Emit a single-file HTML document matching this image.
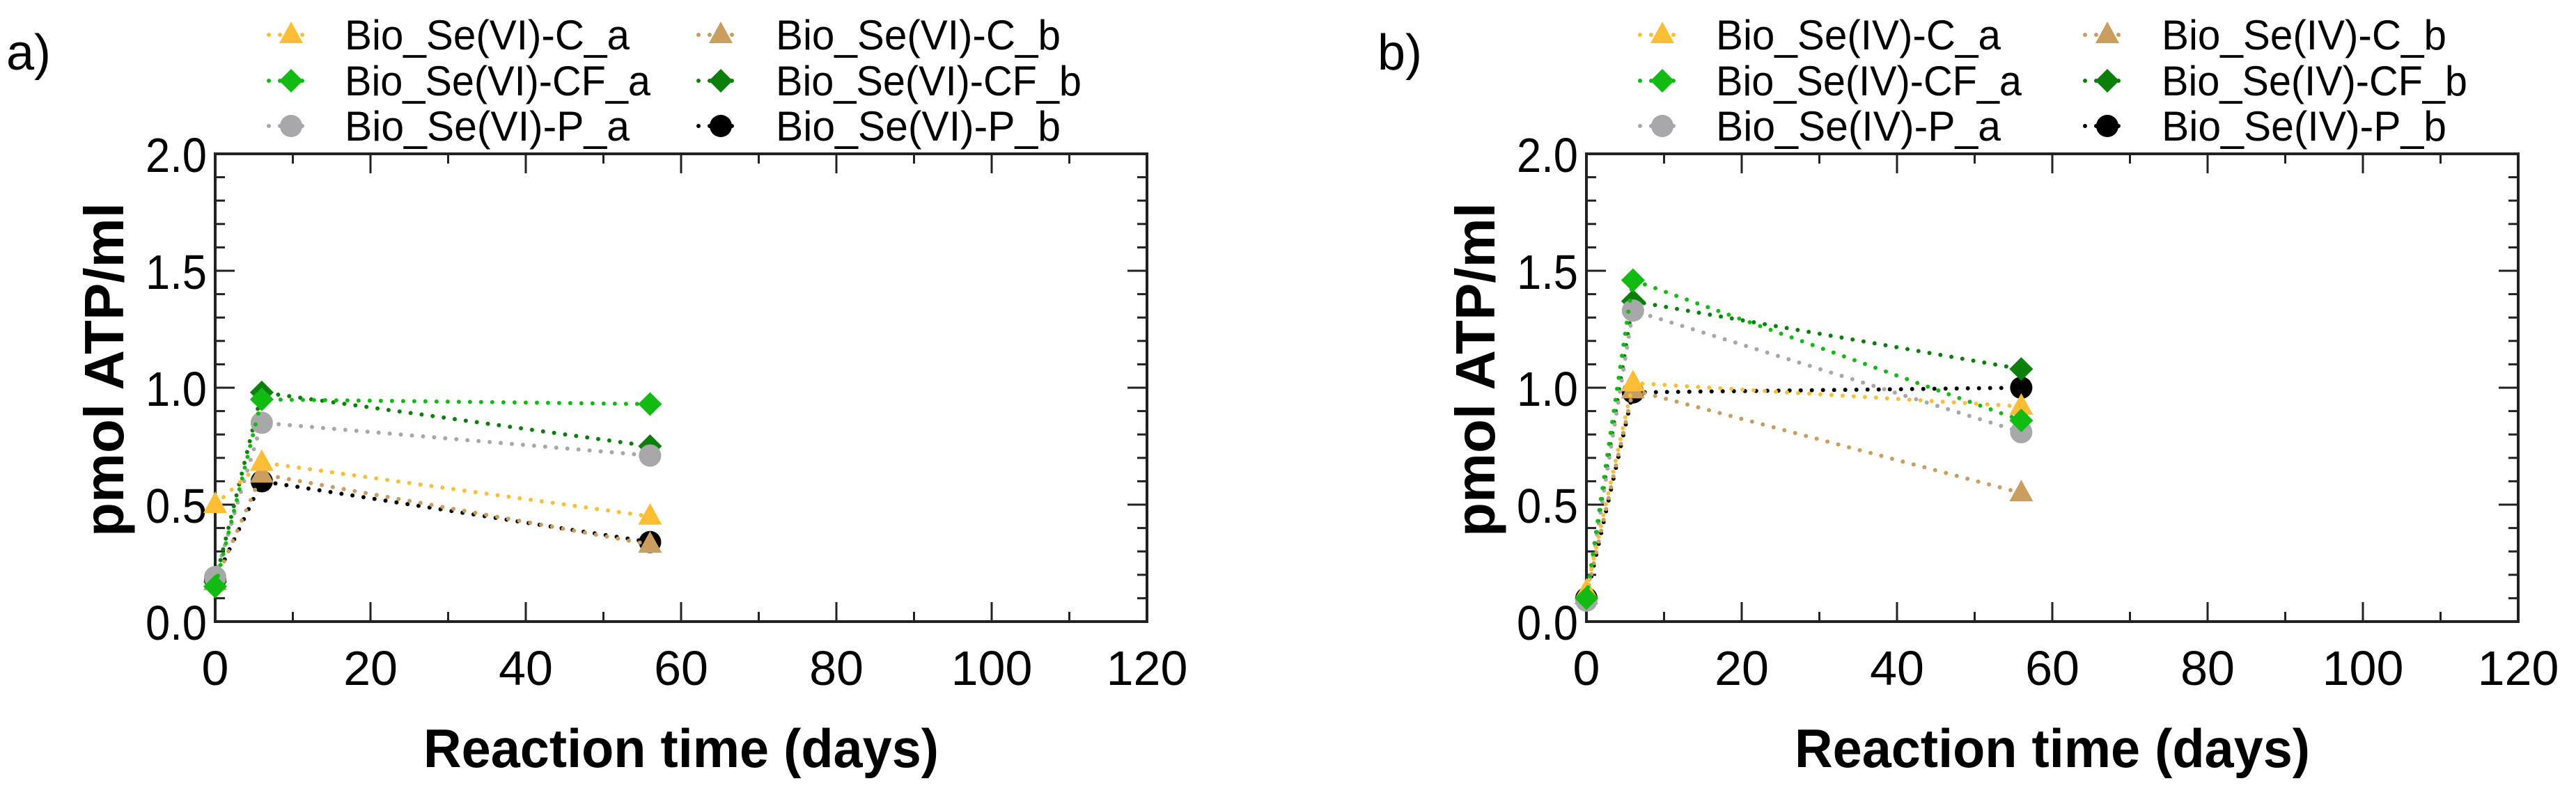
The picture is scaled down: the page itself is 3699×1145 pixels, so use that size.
<!DOCTYPE html>
<html><head><meta charset="utf-8"><style>
html,body{margin:0;padding:0;background:#fff;width:3699px;height:1145px;overflow:hidden}
svg{display:block}
text{font-family:"Liberation Sans",sans-serif;fill:#000}
</style></head><body>
<svg id="fig" width="3699" height="1145" viewBox="0 0 3699 1145" xmlns="http://www.w3.org/2000/svg"></svg>
<script>
// ---- data ----
const days = [0, 6, 56];
const xTicks = [0, 20, 40, 60, 80, 100, 120];
const yTicks = [0.0, 0.5, 1.0, 1.5, 2.0];
const yTickLabels = ["0.0", "0.5", "1.0", "1.5", "2.0"];
const seriesKeys = ["C_a", "C_b", "CF_a", "CF_b", "P_a", "P_b"];
const seriesColors = ["#fbbe35", "#c99e5e", "#11bb11", "#0a7f0a", "#a8a8aa", "#000000"];
const seriesShapes = ["tri", "tri", "dia", "dia", "circ", "circ"];
// panel a  Se(VI)
const aC_a = [0.50, 0.68, 0.45];
const aC_b = [0.17, 0.63, 0.33];
const aCF_a = [0.15, 0.95, 0.93];
const aCF_b = [0.17, 0.98, 0.75];
const aP_a = [0.19, 0.85, 0.71];
const aP_b = [0.18, 0.60, 0.34];
// panel b  Se(IV)
const bC_a = [0.13, 1.02, 0.92];
const bC_b = [0.11, 0.99, 0.55];
const bCF_a = [0.10, 1.46, 0.86];
const bCF_b = [0.10, 1.37, 1.08];
const bP_a = [0.09, 1.33, 0.81];
const bP_b = [0.10, 0.98, 1.00];
const drawOrder = [5, 3, 1, 4, 0, 2];

const NS = "http://www.w3.org/2000/svg";
const svg = document.getElementById("fig");
function mk(tag, attrs, parent){
  const e = document.createElementNS(NS, tag);
  for (const k in attrs) e.setAttribute(k, attrs[k]);
  (parent || svg).appendChild(e);
  return e;
}
function marker(g, shape, cx, cy, color){
  let m;
  if (shape === "tri") m = mk("polygon", {points: `${cx},${cy-19} ${cx+17},${cy+12} ${cx-17},${cy+12}`, fill: color}, g);
  else if (shape === "dia") m = mk("polygon", {points: `${cx},${cy-17} ${cx+17},${cy} ${cx},${cy+17} ${cx-17},${cy}`, fill: color}, g);
  else m = mk("circle", {cx: cx, cy: cy, r: 16, fill: color}, g);
  return m;
}

function panel(id, left, tag, col2Marker, col2Text, data){
  const top = 221, bottom = 893, right = left + 1338;
  const X = d => left + (d / 120) * (right - left);
  const Y = v => bottom - (v / 2) * (bottom - top);
  const g = mk("g", {});
  
  

  const pl = mk("text", {x: left - 300, y: 100, "font-size": 72}, g);
  pl.textContent = id + ")";
  
  

  const tg = mk("g", {stroke: "#222", "stroke-width": 3}, g);
  
  
  for (let d = 0; d <= 120; d += 10){
    const len = d % 20 === 0 ? 28 : 14;
    mk("line", {x1: X(d), y1: bottom, x2: X(d), y2: bottom - len}, tg);
    mk("line", {x1: X(d), y1: top, x2: X(d), y2: top + len}, tg);
  }
  for (let i = 0; i <= 20; i++){
    const v = i / 10, len = i % 5 === 0 ? 28 : 14;
    mk("line", {x1: left, y1: Y(v), x2: left + len, y2: Y(v)}, tg);
    mk("line", {x1: right, y1: Y(v), x2: right - len, y2: Y(v)}, tg);
  }
  const frame = mk("rect", {x: left, y: top, width: right - left, height: bottom - top, fill: "none", stroke: "#222", "stroke-width": 4}, g);
  
  

  xTicks.forEach(d => {
    const t = mk("text", {x: X(d), y: 984, "font-size": 70, "text-anchor": "middle"}, g);
    t.textContent = String(d);
    
    
  });
  yTicks.forEach((v, i) => {
    const t = mk("text", {x: left - 12, y: Y(v) + 26, "font-size": 70, "text-anchor": "end", textLength: 88, lengthAdjust: "spacingAndGlyphs"}, g);
    t.textContent = yTickLabels[i];
    
    
  });
  const xt = mk("text", {x: (left + right) / 2, y: 1102, "font-size": 78, "font-weight": "bold", "text-anchor": "middle", textLength: 740, lengthAdjust: "spacingAndGlyphs"}, g);
  xt.textContent = "Reaction time (days)";
  
  
  const ycx = left - 160, ycy = 531;
  const yt = mk("text", {x: ycx, y: ycy, "font-size": 80, "font-weight": "bold", "text-anchor": "middle", textLength: 480, lengthAdjust: "spacingAndGlyphs", transform: `rotate(-90 ${ycx} ${ycy}) translate(0 28)`}, g);
  yt.textContent = "pmol ATP/ml";
  
  

  drawOrder.forEach(i => {
    const k = seriesKeys[i];
    const vals = data[i];
    const sg = mk("g", {}, g);
    
    
    const pts = days.map((d, j) => X(d) + "," + Y(vals[j])).join(" ");
    mk("polyline", {points: pts, fill: "none", stroke: seriesColors[i], "stroke-width": 6, "stroke-dasharray": "0 16", "stroke-linecap": "round"}, sg);
    days.forEach((d, j) => {
      const m = marker(sg, seriesShapes[i], X(d), Y(vals[j]), seriesColors[i]);
      
      
    });
  });

  const lg = mk("g", {}, g);
  
  
  const rows = [50, 116, 181];
  const order = [[0, 2, 4], [1, 3, 5]];
  const cols = [[left + 109, left + 186], [left + col2Marker, left + col2Text]];
  order.forEach((col, c) => col.forEach((si, r) => {
    const eg = mk("g", {}, lg);
    
    
    const mx = cols[c][0], y = rows[r];
    mk("line", {x1: mx - 32, y1: y, x2: mx + 32, y2: y, stroke: seriesColors[si], "stroke-width": 6, "stroke-dasharray": "0 16", "stroke-linecap": "round"}, eg);
    marker(eg, seriesShapes[si], mx, y, seriesColors[si]);
    const t = mk("text", {x: cols[c][1], y: y + 21, "font-size": 60, textLength: 409 + (seriesKeys[si].startsWith("CF") ? 30 : 0), lengthAdjust: "spacingAndGlyphs"}, eg);
    t.textContent = "Bio_Se(" + tag + ")-" + seriesKeys[si];
  }));
}
panel("a", 309, "VI", 726, 805, [aC_a, aC_b, aCF_a, aCF_b, aP_a, aP_b]);
panel("b", 2278, "IV", 748, 826, [bC_a, bC_b, bCF_a, bCF_b, bP_a, bP_b]);
</script>
</body></html>
